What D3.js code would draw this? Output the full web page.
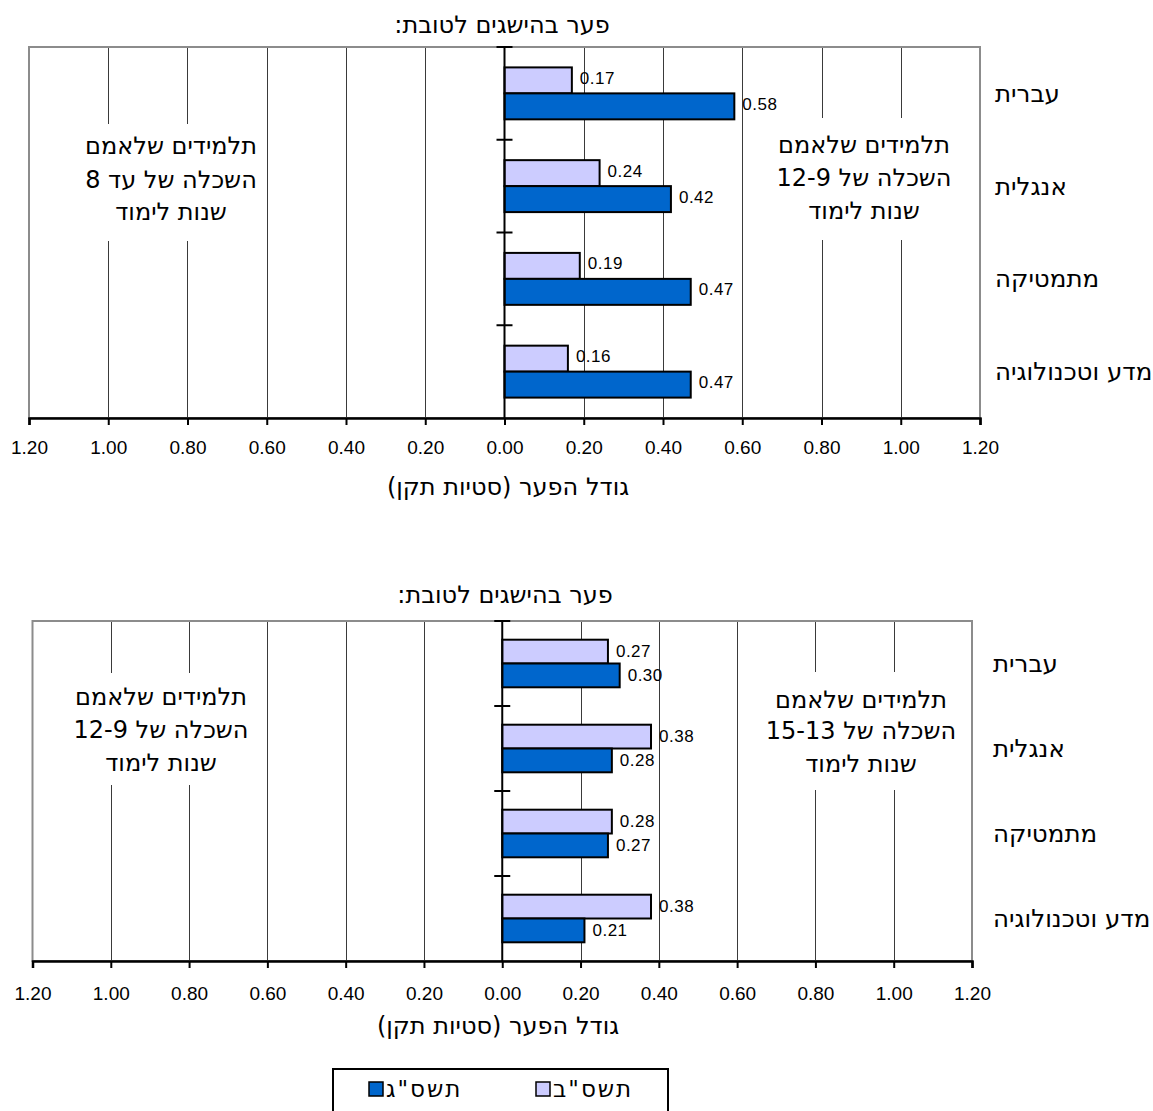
<!DOCTYPE html>
<html lang="he">
<head>
<meta charset="utf-8">
<script src="https://cdn.jsdelivr.net/npm/d3@7"></script>
<style>
  html, body { margin: 0; padding: 0; background: #fff; }
  svg { display: block; }
  text { font-family: "Liberation Sans", Arial, sans-serif; fill: #000; }
  text.heb { font-family: "DejaVu Sans", sans-serif; }
</style>
</head>
<body>
<svg id="chart" width="1153" height="1111"></svg>
<script>
// ---------- data ----------
const categories = ["עברית", "אנגלית", "מתמטיקה", "מדע וטכנולוגיה"];
const seriesNames = ['תשס"ב', 'תשס"ג'];
const seriesColors = ["#CCCCFF", "#0066CC"];

const topTashsab = [0.17, 0.24, 0.19, 0.16];
const topTashsag = [0.58, 0.42, 0.47, 0.47];
const bottomTashsab = [0.27, 0.38, 0.28, 0.38];
const bottomTashsag = [0.30, 0.28, 0.27, 0.21];

const tickValues = [-1.2, -1.0, -0.8, -0.6, -0.4, -0.2, 0, 0.2, 0.4, 0.6, 0.8, 1.0, 1.2];
const tickLabels = ["1.20", "1.00", "0.80", "0.60", "0.40", "0.20", "0.00", "0.20", "0.40", "0.60", "0.80", "1.00", "1.20"];

const chartTitle = "פער בהישגים לטובת:";
const axisTitle = "גודל הפער (סטיות תקן)";
const topLeftNote = ["תלמידים שלאמם", "השכלה של עד 8", "שנות לימוד"];
const topRightNote = ["תלמידים שלאמם", "השכלה של 12-9", "שנות לימוד"];
const bottomLeftNote = ["תלמידים שלאמם", "השכלה של 12-9", "שנות לימוד"];
const bottomRightNote = ["תלמידים שלאמם", "השכלה של 15-13", "שנות לימוד"];

// ---------- layout ----------
const svg = d3.select("#chart");

const panels = [
  {
    values: [topTashsab, topTashsag],
    x0: 29, x1: 980, y0: 47, y1: 418,
    titleX: 502, titleY: 25,
    tickLabelY: 447, axisTitleX: 508, axisTitleY: 487,
    catLabelX: 995, valueDy: -2,
    notes: [
      { lines: topLeftNote, cx: 171, ys: [146, 180, 212], box: [78, 124, 188, 117] },
      { lines: topRightNote, cx: 864, ys: [145, 178, 211], box: [768, 118, 190, 122] }
    ]
  },
  {
    values: [bottomTashsab, bottomTashsag],
    x0: 32.5, x1: 972, y0: 621, y1: 961,
    titleX: 505, titleY: 595,
    tickLabelY: 993, axisTitleX: 498, axisTitleY: 1026,
    catLabelX: 993, valueDy: 0,
    notes: [
      { lines: bottomLeftNote, cx: 161, ys: [697, 730, 763], box: [68, 673, 188, 112] },
      { lines: bottomRightNote, cx: 861, ys: [700, 731, 764], box: [760, 672, 202, 118] }
    ]
  }
];

panels.forEach(p => {
  const g = svg.append("g");
  const x = d3.scaleLinear().domain([-1.2, 1.2]).range([p.x0, p.x1]);
  const yOuter = d3.scaleBand().domain(categories).range([p.y0, p.y1]).padding(0);
  const step = yOuter.step();
  const yInner = d3.scaleBand().domain(seriesNames).range([0.22 * step, 0.78 * step]).padding(0);

  // title
  g.append("text").attr("class", "heb")
    .attr("x", p.titleX).attr("y", p.titleY)
    .attr("direction", "rtl").style("direction", "rtl")
    .attr("text-anchor", "middle").attr("dominant-baseline", "central")
    .style("font-size", "24px")
    .text(chartTitle);

  // gridlines
  g.append("g").selectAll("line")
    .data(tickValues.filter(v => v !== 0 && Math.abs(v) < 1.19))
    .join("line")
    .attr("x1", d => Math.round(x(d)) + 0.5).attr("x2", d => Math.round(x(d)) + 0.5)
    .attr("y1", p.y0).attr("y2", p.y1)
    .attr("stroke", "#3a3a3a").attr("stroke-width", 1);

  // frame
  g.append("rect")
    .attr("x", p.x0).attr("y", p.y0)
    .attr("width", p.x1 - p.x0).attr("height", p.y1 - p.y0)
    .attr("fill", "none").attr("stroke", "#8c8c8c").attr("stroke-width", 2);

  // text notes (white boxes hide gridlines)
  p.notes.forEach(n => {
    g.append("rect")
      .attr("x", n.box[0]).attr("y", n.box[1])
      .attr("width", n.box[2]).attr("height", n.box[3])
      .attr("fill", "#fff");
    g.append("g").selectAll("text")
      .data(n.lines)
      .join("text").attr("class", "heb")
      .attr("x", n.cx).attr("y", (d, i) => n.ys[i])
      .attr("direction", "rtl").style("direction", "rtl")
      .attr("text-anchor", "middle").attr("dominant-baseline", "central")
      .style("font-size", "24px")
      .text(d => d);
  });

  // bars
  const rows = categories.map((c, i) => ({ cat: c, vals: seriesNames.map((s, j) => ({ s, j, v: p.values[j][i] })) }));
  const rowG = g.append("g").selectAll("g")
    .data(rows).join("g")
    .attr("transform", d => `translate(0,${yOuter(d.cat)})`);

  rowG.selectAll("rect")
    .data(d => d.vals).join("rect")
    .attr("x", x(0))
    .attr("y", d => yInner(d.s))
    .attr("width", d => x(d.v) - x(0))
    .attr("height", yInner.bandwidth())
    .attr("fill", d => seriesColors[d.j])
    .attr("stroke", "#000").attr("stroke-width", 2);

  rowG.selectAll("text")
    .data(d => d.vals).join("text")
    .attr("x", d => x(d.v) + 8)
    .attr("y", d => yInner(d.s) + yInner.bandwidth() / 2 + p.valueDy)
    .attr("dominant-baseline", "central")
    .style("font-size", "17px")
    .style("letter-spacing", "0.5px")
    .text(d => d3.format(".2f")(d.v));

  // zero axis with category ticks
  g.append("line")
    .attr("x1", x(0)).attr("x2", x(0)).attr("y1", p.y0).attr("y2", p.y1)
    .attr("stroke", "#000").attr("stroke-width", 2);
  g.append("g").selectAll("line")
    .data(categories)
    .join("line")
    .attr("x1", x(0) - 8).attr("x2", x(0) + 8)
    .attr("y1", d => yOuter(d)).attr("y2", d => yOuter(d))
    .attr("stroke", "#000").attr("stroke-width", 2);

  // bottom axis
  const axis = d3.axisBottom(x)
    .tickValues(tickValues)
    .tickFormat((d, i) => tickLabels[i])
    .tickSize(7)
    .tickPadding(0);
  const ag = g.append("g").attr("transform", `translate(0,${p.y1})`).call(axis);
  ag.select(".domain").attr("stroke", "#000").attr("stroke-width", 2.5);
  ag.selectAll(".tick line").attr("stroke", "#000").attr("stroke-width", 2);
  ag.selectAll(".tick text")
    .attr("y", p.tickLabelY - p.y1)
    .attr("dy", null)
    .attr("dominant-baseline", "central")
    .style("font-size", "19px")
    .style("font-family", '"Liberation Sans", Arial, sans-serif');

  // axis title
  g.append("text").attr("class", "heb")
    .attr("x", p.axisTitleX).attr("y", p.axisTitleY)
    .attr("direction", "rtl").style("direction", "rtl")
    .attr("text-anchor", "middle").attr("dominant-baseline", "central")
    .style("font-size", "24px")
    .text(axisTitle);

  // category labels
  g.append("g").selectAll("text")
    .data(categories).join("text").attr("class", "heb")
    .attr("x", p.catLabelX)
    .attr("y", d => yOuter(d) + step / 2)
    .attr("dominant-baseline", "central")
    .attr("text-anchor", "start")
    .style("font-size", "24.5px")
    .text(d => d);
});

// ---------- legend ----------
const legend = svg.append("g");
legend.append("rect")
  .attr("x", 333).attr("y", 1069).attr("width", 335).attr("height", 60)
  .attr("fill", "#fff").attr("stroke", "#000").attr("stroke-width", 2);
const legendItems = [
  { name: seriesNames[1], color: seriesColors[1], x: 369 },
  { name: seriesNames[0], color: seriesColors[0], x: 536 }
];
const li = legend.selectAll("g.item").data(legendItems).join("g").attr("class", "item");
li.append("rect")
  .attr("x", d => d.x).attr("y", 1082).attr("width", 14).attr("height", 14)
  .attr("fill", d => d.color).attr("stroke", "#000").attr("stroke-width", 1.5);
li.append("text").attr("class", "heb")
  .attr("x", d => d.x + 17).attr("y", 1089)
  .attr("dominant-baseline", "central")
  .attr("text-anchor", "start")
  .style("font-size", "23px").style("letter-spacing", "2px")
  .text(d => d.name);
</script>
</body>
</html>
